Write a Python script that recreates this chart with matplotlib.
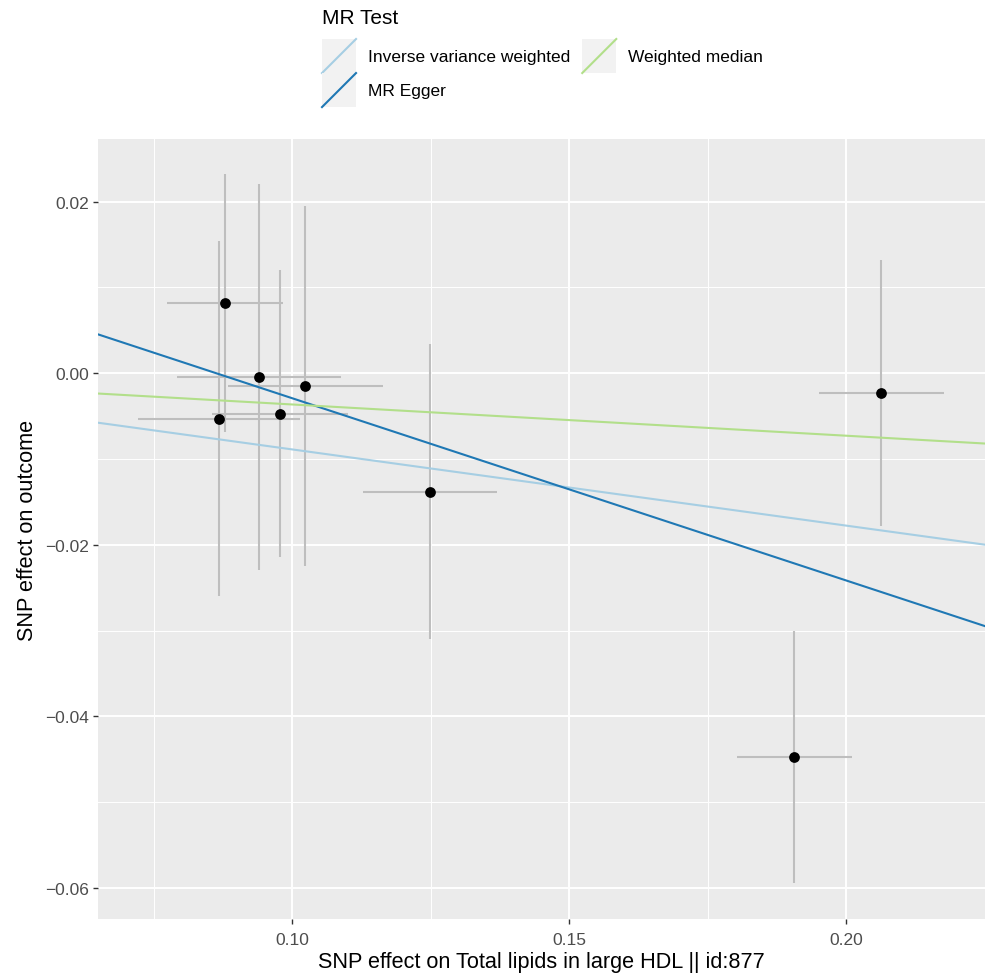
# MR scatter plot: SNP effects on exposure vs outcome with fitted MR lines
import numpy as np
import matplotlib.pyplot as plt
from matplotlib.lines import Line2D
from matplotlib.patches import Rectangle
from matplotlib.legend_handler import HandlerBase

plt.rcParams['font.family'] = ['Liberation Sans', 'DejaVu Sans']

# per-SNP effects and standard errors
beta_exposure = [0.0878, 0.0940, 0.1023, 0.0978, 0.0867, 0.1249, 0.2063, 0.1906]
se_exposure   = [0.0105, 0.0148, 0.0140, 0.0123, 0.0146, 0.0121, 0.0113, 0.0104]
beta_outcome  = [0.0082, -0.0004, -0.0015, -0.0047, -0.0053, -0.0138, -0.0023, -0.0447]
se_outcome    = [0.0150, 0.0225, 0.0210, 0.0167, 0.0207, 0.0172, 0.0155, 0.0147]

# MR estimates (slope, intercept)
methods    = ['Inverse variance weighted', 'MR Egger', 'Weighted median']
slopes     = [-0.0888, -0.2124, -0.0364]
intercepts = [0.0, 0.01832, 0.0]
colors     = ['#A6CEE3', '#1F78B4', '#B2DF8A']

xticks = [0.10, 0.15, 0.20]
yticks = [-0.06, -0.04, -0.02, 0.00, 0.02]


class DiagonalKey(HandlerBase):
    # ggplot-style key: grey square with a diagonal line
    def create_artists(self, legend, orig_handle, xdescent, ydescent,
                       width, height, fontsize, trans):
        x0, y0 = -xdescent, -ydescent
        bg = Rectangle((x0, y0), width, height, facecolor='#F2F2F2',
                       edgecolor='none', transform=trans)
        ln = Line2D([x0, x0 + width], [y0, y0 + height],
                    color=orig_handle.get_color(),
                    lw=orig_handle.get_linewidth(), transform=trans)
        return [bg, ln]


fig = plt.figure(figsize=(9.85, 9.78), dpi=100)
ax = fig.add_axes([98/985, 58/978, 887/985, 780/978])
ax.set_facecolor('#EBEBEB')

bx = np.array(beta_exposure)
by = np.array(beta_outcome)
ax.errorbar(bx, by, yerr=se_outcome, fmt='none', ecolor='#BEBEBE',
            elinewidth=1.5, capsize=0, zorder=2)
ax.errorbar(bx, by, xerr=se_exposure, fmt='none', ecolor='#BEBEBE',
            elinewidth=1.5, capsize=0, zorder=2)
ax.scatter(bx, by, s=60, color='black', zorder=3, linewidths=0)

handles = []
for m, b, name, c in zip(slopes, intercepts, methods, colors):
    ax.axline((0, b), slope=m, color=c, lw=1.5, zorder=4)
    handles.append(Line2D([], [], color=c, lw=1.5, label=name))

ax.set_xlim(0.0649, 0.2239)
ax.set_ylim(-0.0636, 0.0273)
ax.set_xticks(xticks)
ax.set_xticklabels([f'{v:.2f}' for v in xticks])
ax.set_xticks([0.075, 0.125, 0.175, 0.225], minor=True)
ax.set_yticks(yticks)
ax.set_yticklabels([f'{v:.2f}'.replace('-', '\u2212') for v in yticks])
ax.set_yticks([-0.05, -0.03, -0.01, 0.01], minor=True)

ax.grid(which='major', color='white', lw=1.4)
ax.grid(which='minor', color='white', lw=0.7)
ax.set_axisbelow(True)
for s in ax.spines.values():
    s.set_visible(False)
ax.tick_params(which='major', length=3.5, width=1.0, color='#333333',
               labelsize=12.5, labelcolor='#4D4D4D', pad=3)
ax.tick_params(axis='x', which='major', pad=6)
ax.tick_params(which='minor', length=0)

ax.set_xlabel('SNP effect on Total lipids in large HDL || id:877',
              fontsize=15.6, labelpad=3)
ax.set_ylabel('SNP effect on outcome', fontsize=15.6, labelpad=5)

# legend above the panel
fig.text(322/985, 1 - 18/978, 'MR Test', fontsize=15, va='center', ha='left')
fig.legend(handles=handles, ncol=2, loc='upper left',
           bbox_to_anchor=(322/985, 1 - 40/978),
           frameon=False, fontsize=12.5,
           handler_map={Line2D: DiagonalKey()},
           handlelength=1.96, handleheight=2.64, labelspacing=0.0,
           handletextpad=0.69, columnspacing=0.69, borderpad=0.0,
           borderaxespad=0.0)

fig.savefig('out.png', dpi=100)
